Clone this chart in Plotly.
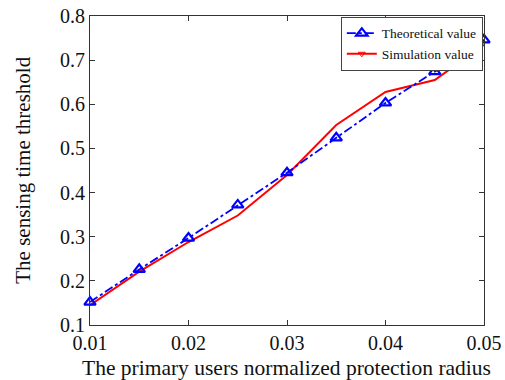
import plotly.graph_objects as go

x_vals = [0.01, 0.015, 0.02, 0.025, 0.03, 0.035, 0.04, 0.045, 0.05]
theoretical = [0.152, 0.226, 0.297, 0.372, 0.445, 0.524, 0.603, 0.674, 0.746]
simulation = [0.145, 0.221, 0.288, 0.348, 0.440, 0.553, 0.628, 0.655, 0.735]
x_ticks = [0.01, 0.02, 0.03, 0.04, 0.05]
x_tick_labels = ["0.01", "0.02", "0.03", "0.04", "0.05"]
y_ticks = [0.1, 0.2, 0.3, 0.4, 0.5, 0.6, 0.7, 0.8]
y_tick_labels = ["0.1", "0.2", "0.3", "0.4", "0.5", "0.6", "0.7", "0.8"]

font_family = "Liberation Serif, Times New Roman, serif"

fig = go.Figure()
fig.add_trace(go.Scatter(
    x=x_vals, y=simulation, mode="lines", name="Simulation value",
    line=dict(color="#ff0000", width=2), showlegend=False, cliponaxis=False))
fig.add_trace(go.Scatter(
    x=x_vals, y=theoretical, mode="lines+markers", name="Theoretical value",
    line=dict(color="#0000ff", width=1.8, dash="dashdot"),
    marker=dict(symbol="triangle-up-open", size=10, color="#0000ff",
                line=dict(width=2.2, color="#0000ff")),
    cliponaxis=False))
fig.add_trace(go.Scatter(
    x=[None], y=[None], mode="lines+markers", name="Simulation value",
    line=dict(color="#ff0000", width=2),
    marker=dict(symbol="triangle-down-open", size=6, color="#ff0000")))

axis_common = dict(
    showgrid=False, zeroline=False, showline=True, linecolor="#333333",
    linewidth=1, mirror="ticks", ticks="inside", ticklen=5, tickcolor="#333333",
    tickfont=dict(family=font_family, size=20, color="#111111"),
    automargin=False,
)

fig.update_layout(
    width=505, height=380, autosize=False,
    margin=dict(l=90, r=21, t=16, b=55, pad=0),
    paper_bgcolor="white", plot_bgcolor="white",
    font=dict(family=font_family, color="#111111"),
    xaxis=dict(range=[0.01, 0.05], tickvals=x_ticks, ticktext=x_tick_labels,
               **axis_common),
    yaxis=dict(range=[0.1, 0.8], tickvals=y_ticks, ticktext=y_tick_labels,
               **axis_common),
    legend=dict(x=0.997, y=0.997, xanchor="right", yanchor="top",
                bgcolor="white", bordercolor="#444444", borderwidth=1,
                font=dict(family=font_family, size=13.5),
                tracegroupgap=0, itemwidth=30),
    annotations=[
        dict(text="The primary users normalized protection radius",
             xref="paper", yref="paper", x=0.498, y=-0.14,
             xanchor="center", yanchor="middle", showarrow=False,
             font=dict(family=font_family, size=21.5, color="#111111")),
        dict(text="The sensing time threshold",
             xref="paper", yref="paper", x=-0.172, y=0.5,
             xanchor="center", yanchor="middle", showarrow=False, textangle=-90,
             font=dict(family=font_family, size=21, color="#111111")),
    ],
)

fig.write_html(
    "out.html",
    config={"responsive": False, "displayModeBar": False},
    post_script="document.body.style.margin='0';document.body.style.overflow='hidden';",
)
